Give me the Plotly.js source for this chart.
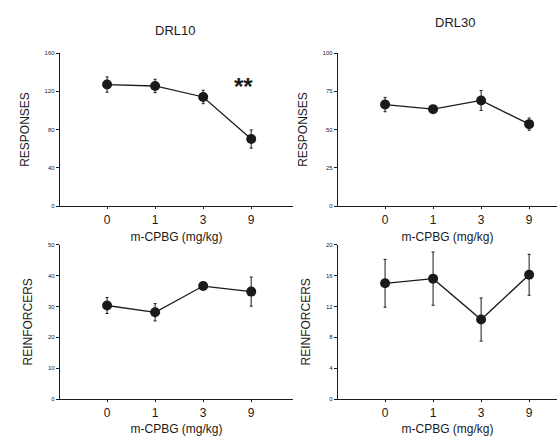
<!DOCTYPE html>
<html>
<head>
<meta charset="utf-8">
<script src="https://cdn.plot.ly/plotly-3.0.1.min.js"></script>
<style>html,body{margin:0;padding:0;background:#fff;}#chart{width:557px;height:436px;}</style>
</head>
<body>
<div id="chart"></div>
<script>
// Dose categories (mg/kg)
var doses = ['0', '1', '3', '9'];

// DRL10 responses
var drl10Responses = [127, 125.5, 114, 70];
var drl10ResponsesErr = [8, 7, 7, 9.5];
// DRL30 responses
var drl30Responses = [66.3, 63.3, 69, 53.5];
var drl30ResponsesErr = [4.7, 1, 6.5, 4];
// DRL10 reinforcers
var drl10Reinf = [30.3, 28.1, 36.6, 34.8];
var drl10ReinfErr = [2.6, 2.8, 0.5, 4.7];
// DRL30 reinforcers
var drl30Reinf = [15.0, 15.6, 10.3, 16.1];
var drl30ReinfErr = [3.1, 3.45, 2.8, 2.65];

var panelTitles = ['DRL10', 'DRL30'];
var xTitle = 'm-CPBG (mg/kg)';
var yTitles = ['RESPONSES', 'REINFORCERS'];
var sigLabel = '**';

var ink = '#1a1a1a';
var font = 'Liberation Sans, Arial, sans-serif';

function series(y, err, xa, ya) {
  return {
    x: [0, 1, 2, 3], y: y, xaxis: xa, yaxis: ya,
    type: 'scatter', mode: 'lines+markers',
    line: {color: ink, width: 1.3},
    marker: {color: ink, size: 10},
    error_y: {type: 'data', array: err, visible: true, color: ink, thickness: 1, width: 1.5},
    showlegend: false, hoverinfo: 'skip'
  };
}

var data = [
  series(drl10Responses, drl10ResponsesErr, 'x', 'y'),
  series(drl30Responses, drl30ResponsesErr, 'x2', 'y2'),
  series(drl10Reinf, drl10ReinfErr, 'x3', 'y3'),
  series(drl30Reinf, drl30ReinfErr, 'x4', 'y4')
];

function xax(dom, rng, anchor) {
  return {
    domain: dom, anchor: anchor, range: rng,
    tickvals: [0, 1, 2, 3], ticktext: doses,
    showline: true, linecolor: ink, linewidth: 1.2,
    ticks: 'outside', ticklen: 2, tickcolor: ink,
    showgrid: false, zeroline: false, automargin: false,
    tickfont: {family: font, size: 12, color: ink},
    title: {text: xTitle, font: {family: font, size: 12, color: ink}, standoff: 7}
  };
}
function yax(dom, rng, dtick, anchor, title) {
  return {
    domain: dom, anchor: anchor, range: rng, dtick: dtick, tick0: 0,
    showline: true, linecolor: ink, linewidth: 1.2,
    ticks: 'outside', ticklen: 3, tickcolor: ink,
    showgrid: false, zeroline: false, automargin: false,
    tickfont: {family: font, size: 6, color: ink},
    title: {text: title, font: {family: font, size: 12, color: ink}, standoff: 12}
  };
}

var topDom = [1 - 206 / 436, 1 - 53 / 436];
var botDom = [1 - 399 / 436, 1 - 244.7 / 436];
var leftDom = [60 / 557, 293 / 557];
var rightDom = [338 / 557, 1];

var layout = {
  width: 557, height: 436,
  margin: {l: 0, r: 0, t: 0, b: 0},
  paper_bgcolor: '#fff', plot_bgcolor: '#fff',
  showlegend: false,
  xaxis: xax(leftDom, [-0.98, 3.87], 'y'),
  yaxis: yax(topDom, [0, 160], 40, 'x', yTitles[0]),
  xaxis2: xax(rightDom, [-0.98, 3.58], 'y2'),
  yaxis2: yax(topDom, [0, 100], 25, 'x2', yTitles[0]),
  xaxis3: xax(leftDom, [-0.98, 3.87], 'y3'),
  yaxis3: yax(botDom, [0, 50], 10, 'x3', yTitles[1]),
  xaxis4: xax(rightDom, [-0.98, 3.58], 'y4'),
  yaxis4: yax(botDom, [0, 20], 4, 'x4', yTitles[1]),
  annotations: [
    {text: panelTitles[0], xref: 'paper', yref: 'paper', x: 175 / 557, y: 1 - 30 / 436,
     showarrow: false, font: {family: font, size: 13, color: ink}, xanchor: 'center', yanchor: 'middle'},
    {text: panelTitles[1], xref: 'paper', yref: 'paper', x: 455 / 557, y: 1 - 23 / 436,
     showarrow: false, font: {family: font, size: 13, color: ink}, xanchor: 'center', yanchor: 'middle'},
    {text: '<b>' + sigLabel + '</b>', xref: 'x', yref: 'y', x: 2.83, y: 125,
     showarrow: false, font: {family: font, size: 24, color: ink}, xanchor: 'center', yanchor: 'middle'}
  ]
};

Plotly.newPlot('chart', data, layout, {staticPlot: true, displayModeBar: false});
</script>
</body>
</html>
